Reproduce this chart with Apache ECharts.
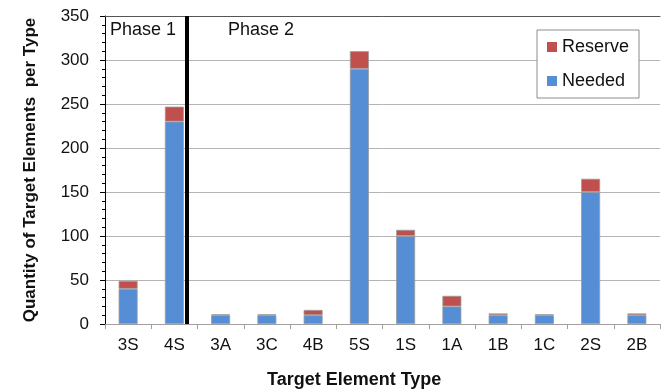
<!DOCTYPE html>
<html><head><meta charset="utf-8">
<script src="https://cdn.jsdelivr.net/npm/echarts@6/dist/echarts.min.js"></script>
<style>html,body{margin:0;padding:0;background:#fff}#c{width:661px;height:392px}</style>
</head><body><div id="c"></div>
<script>
var categories = ['3S','4S','3A','3C','4B','5S','1S','1A','1B','1C','2S','2B'];
var needed  = [40, 230, 10, 10, 10, 290, 100, 20, 10, 10, 150, 10];
var reserve = [9, 17, 1, 1, 6, 20, 7, 12, 2, 1, 15, 2];
var yTicks = [0, 50, 100, 150, 200, 250, 300, 350];
var phaseBoundary = 1.77; // position on a 0..12 scale spanning the categories
var font = '"Liberation Sans", Arial, sans-serif';

var chart = echarts.init(document.getElementById('c'), null, {renderer: 'canvas'});
chart.setOption({
  animation: false,
  textStyle: {fontFamily: font},
  grid: {left: 105, right: 1, top: 16, bottom: 68, containLabel: false},
  legend: {
    orient: 'vertical', left: 537, top: 30,
    data: ['Reserve', 'Needed'],
    itemWidth: 10, itemHeight: 10, itemGap: 16,
    padding: [8, 10, 8, 10],
    borderColor: '#8c8c8c', borderWidth: 1, backgroundColor: '#fff',
    textStyle: {fontSize: 18, color: '#111', fontFamily: font},
    itemStyle: {borderWidth: 0},
    icon: 'rect'
  },
  xAxis: [{
    type: 'category', data: categories,
    axisLine: {lineStyle: {color: '#a0a0a0', width: 1}},
    axisTick: {show: true, alignWithLabel: false, length: 5, lineStyle: {color: '#a0a0a0'}},
    axisLabel: {fontSize: 17, color: '#111', margin: 13, fontFamily: font},
    splitLine: {show: false}
  }, {
    type: 'value', min: 0, max: 12, position: 'top',
    axisLine: {show: true, lineStyle: {color: '#555', width: 1}},
    axisTick: {show: false}, axisLabel: {show: false}, splitLine: {show: false}
  }],
  yAxis: {
    type: 'value', min: yTicks[0], max: yTicks[yTicks.length - 1], interval: 50,
    name: 'Quantity of Target Elements  per Type', nameLocation: 'middle', nameGap: 66,
    nameTextStyle: {fontSize: 17, fontWeight: 'bold', color: '#111', fontFamily: font},
    axisLine: {show: true, lineStyle: {color: '#000', width: 1}},
    axisTick: {show: true, length: 5, lineStyle: {color: '#000'}},
    minorTick: {show: true, splitNumber: 5, length: 3, lineStyle: {color: '#000'}},
    axisLabel: {fontSize: 17, color: '#111', margin: 16, fontFamily: font},
    splitLine: {show: true, lineStyle: {color: '#b4b4b4', width: 1}}
  },
  series: [{
    name: 'Needed', type: 'bar', stack: 'q', data: needed, barWidth: '41%',
    itemStyle: {color: '#558ED5', borderColor: '#9a9a9a', borderWidth: 0.8}
  }, {
    name: 'Reserve', type: 'bar', stack: 'q', data: reserve, barWidth: '41%',
    itemStyle: {color: '#C0504D', borderColor: '#9a9a9a', borderWidth: 0.8}
  }, {
    name: 'phase', type: 'line', xAxisIndex: 1, data: [],
    markLine: {
      silent: true, symbol: 'none', label: {show: false},
      lineStyle: {color: '#000', width: 4, type: 'solid'},
      data: [{xAxis: phaseBoundary}]
    }
  }],
  graphic: [
    {type: 'text', left: 110, top: 21, style: {text: 'Phase 1', font: '18px ' + font, fill: '#111'}},
    {type: 'text', left: 228, top: 21, style: {text: 'Phase 2', font: '18px ' + font, fill: '#111'}},
    {type: 'text', left: 267, top: 371, style: {text: 'Target Element Type', font: 'bold 18px ' + font, fill: '#111'}}
  ]
});
</script></body></html>
